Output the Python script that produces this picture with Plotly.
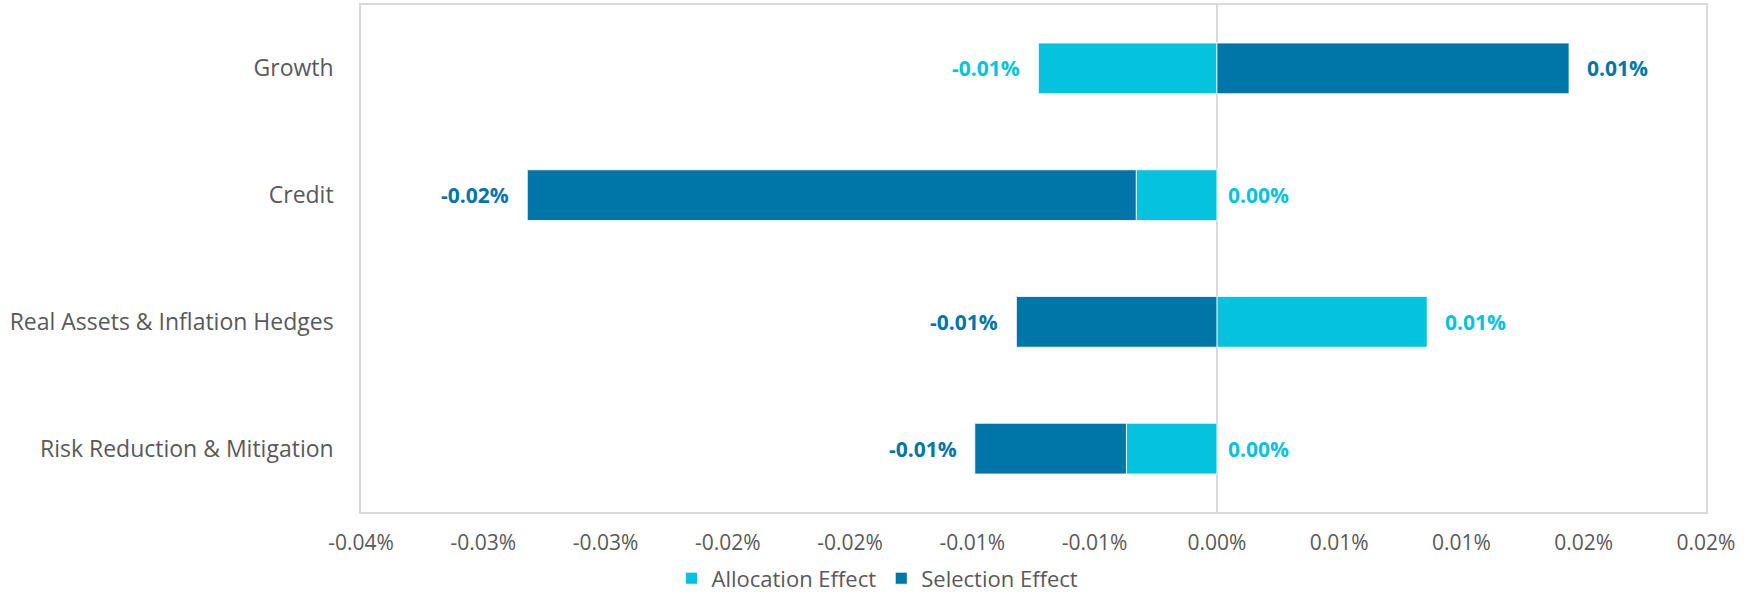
from decimal import Decimal, ROUND_HALF_UP

import plotly.graph_objects as go

# Attribution effects by asset class, in percent
categories = ["Growth", "Credit", "Real Assets & Inflation Hedges", "Risk Reduction & Mitigation"]
allocation_effect = [-0.0073, -0.0033, 0.0086, -0.0037]
selection_effect = [0.0144, -0.0249, -0.0082, -0.0062]

tick_values = [-0.035, -0.030, -0.025, -0.020, -0.015, -0.010, -0.005, 0.0, 0.005, 0.010, 0.015, 0.020]

LIGHT = "#05C3DE"
DARK = "#0076A8"
GREY_TEXT = "#595959"
FONT = "Open Sans"


def pct(v):
    """Two-decimal percent label, rounding halves away from zero."""
    d = Decimal(repr(v)).quantize(Decimal("0.01"), rounding=ROUND_HALF_UP)
    s = f"{d}%"
    return "0.00%" if s == "-0.00%" else s


fig = go.Figure()
fig.add_trace(go.Bar(
    y=categories, x=allocation_effect, orientation="h", name="Allocation Effect",
    marker=dict(color=LIGHT, line=dict(color="white", width=0.8)),
))
fig.add_trace(go.Bar(
    y=categories, x=selection_effect, orientation="h", name="Selection Effect",
    marker=dict(color=DARK, line=dict(color="white", width=0.8)),
))

label_font = dict(size=21, family=FONT, weight="bold")

# Data labels: outer end of each segment, or just right of zero for inner negatives
series = [(allocation_effect, selection_effect, LIGHT, True), (selection_effect, allocation_effect, DARK, False)]
for vals, other, color, is_inner in series:
    for cat, v, o in zip(categories, vals, other):
        font = dict(label_font, color=color)
        if v >= 0:
            end = v if (is_inner or o < 0) else v + o
            fig.add_annotation(x=end, y=cat, text=pct(v), xanchor="left", xshift=16,
                               showarrow=False, font=font)
        elif is_inner and o < 0:
            fig.add_annotation(x=0, y=cat, text=pct(v), xanchor="left", xshift=9,
                               showarrow=False, font=font)
        else:
            end = v if (is_inner or o >= 0) else v + o
            fig.add_annotation(x=end, y=cat, text=pct(v), xanchor="right", xshift=-16,
                               showarrow=False, font=font)

fig.update_layout(
    barmode="relative",
    bargap=0.6,
    width=1751, height=600,
    margin=dict(l=361, r=45, t=5, b=88, autoexpand=False),
    plot_bgcolor="white", paper_bgcolor="white",
    font=dict(family=FONT, color=GREY_TEXT),
    xaxis=dict(
        range=[-0.035, 0.020], tickvals=tick_values, ticktext=[pct(t) for t in tick_values],
        showgrid=False, zeroline=True, zerolinecolor="#D9D9D9", zerolinewidth=1.5,
        showline=True, linecolor="#D9D9D9", linewidth=1.5, mirror=True,
        tickfont=dict(size=21, color=GREY_TEXT), ticks="", ticklabelstandoff=11,
    ),
    yaxis=dict(
        categoryorder="array", categoryarray=categories, autorange="reversed",
        showgrid=False, showline=True, linecolor="#D9D9D9", linewidth=1.5, mirror=True,
        tickfont=dict(size=23, color=GREY_TEXT), ticks="", ticklabelstandoff=21,
    ),
    legend=dict(
        orientation="h", x=0.384, xanchor="center", y=-0.131, yanchor="middle",
        font=dict(size=22, color=GREY_TEXT), itemwidth=30, traceorder="normal",
    ),
    showlegend=True,
)

fig.write_html("out.html")
